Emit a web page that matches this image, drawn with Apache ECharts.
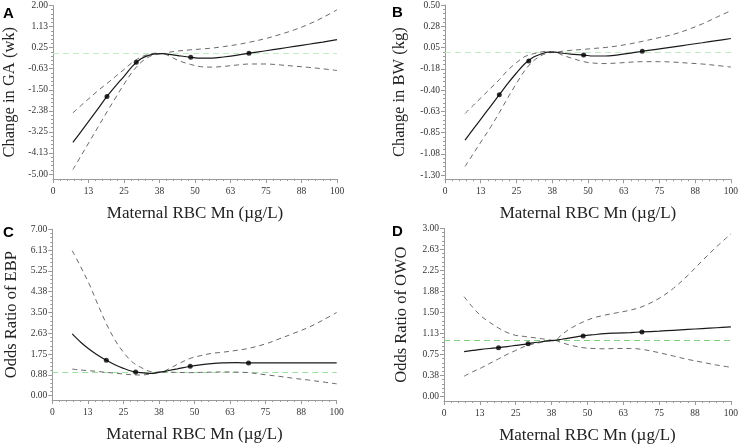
<!DOCTYPE html>
<html>
<head>
<meta charset="utf-8">
<script src="https://cdn.jsdelivr.net/npm/echarts@6/dist/echarts.min.js"></script>
<style>
  html, body { margin: 0; padding: 0; background: #fff; }
  #chart { width: 741px; height: 445px; }
</style>
</head>
<body>
<div id="chart"></div>
<script>
// x positions of the estimated curve points (Maternal RBC Mn, ug/L)
const xs = [7, 10, 13, 16, 19, 22, 25, 28, 31, 34, 36, 38.5, 41, 44, 48.5, 52, 56, 60, 65, 69, 75, 80, 85, 90, 95, 100];
const dotX = [19, 29.3, 48.5, 69];

// A: change in GA (wk)
const gaFit = [-3.69, -3.22, -2.74, -2.26, -1.78, -1.35, -0.94, -0.52, -0.21, -0.06, -0.01, 0, -0.03, -0.08, -0.15, -0.19, -0.19, -0.14, -0.06, 0.02, 0.12, 0.21, 0.30, 0.39, 0.48, 0.58];
const gaUpper = [-2.46, -2.14, -1.83, -1.52, -1.24, -0.95, -0.66, -0.36, -0.14, -0.02, 0.02, 0, 0.06, 0.11, 0.16, 0.19, 0.23, 0.29, 0.38, 0.47, 0.63, 0.80, 0.99, 1.22, 1.50, 1.82];
const gaLower = [-4.82, -4.22, -3.62, -3.02, -2.42, -1.84, -1.27, -0.75, -0.36, -0.12, -0.04, 0, -0.10, -0.28, -0.45, -0.54, -0.56, -0.53, -0.47, -0.43, -0.43, -0.47, -0.52, -0.57, -0.63, -0.70];
const gaDots = [-1.78, -0.36, -0.15, 0.02];

// B: change in BW (kg)
const bwFit = [-0.93, -0.81, -0.69, -0.57, -0.45, -0.33, -0.22, -0.12, -0.05, -0.015, 0, 0, -0.01, -0.02, -0.03, -0.04, -0.04, -0.03, -0.01, 0.01, 0.035, 0.057, 0.079, 0.10, 0.123, 0.145];
const bwUpper = [-0.65, -0.56, -0.47, -0.38, -0.29, -0.19, -0.11, -0.045, -0.015, 0.005, 0.01, 0, 0.01, 0.02, 0.03, 0.04, 0.05, 0.065, 0.09, 0.115, 0.155, 0.19, 0.24, 0.30, 0.37, 0.44];
const bwLower = [-1.21, -1.07, -0.93, -0.79, -0.64, -0.48, -0.33, -0.19, -0.09, -0.03, -0.01, 0, -0.03, -0.06, -0.10, -0.115, -0.12, -0.115, -0.105, -0.10, -0.10, -0.105, -0.115, -0.125, -0.14, -0.157];
const bwDots = [-0.45, -0.094, -0.03, 0.01];

// C: odds ratio of EBP
const ebpFit = [2.60, 2.25, 1.95, 1.70, 1.49, 1.30, 1.15, 1.03, 0.97, 0.94, 0.95, 1.0, 1.06, 1.13, 1.24, 1.30, 1.35, 1.38, 1.39, 1.38, 1.38, 1.38, 1.38, 1.38, 1.38, 1.38];
const ebpUpper = [6.10, 5.42, 4.69, 3.84, 3.03, 2.35, 1.83, 1.43, 1.20, 1.03, 0.99, 1.0, 1.13, 1.32, 1.57, 1.68, 1.78, 1.83, 1.91, 1.99, 2.18, 2.40, 2.63, 2.87, 3.17, 3.50];
const ebpLower = [1.12, 1.08, 1.05, 1.02, 0.98, 0.95, 0.91, 0.88, 0.87, 0.90, 0.94, 1.0, 0.99, 0.98, 0.97, 0.98, 0.99, 1.0, 0.99, 0.97, 0.88, 0.81, 0.73, 0.66, 0.58, 0.50];
const ebpDots = [1.49, 1.00, 1.24, 1.38];

// D: odds ratio of OWO
const owoFit = [0.80, 0.82, 0.84, 0.855, 0.87, 0.89, 0.91, 0.93, 0.955, 0.975, 0.99, 1.0, 1.02, 1.045, 1.08, 1.10, 1.12, 1.13, 1.14, 1.15, 1.165, 1.18, 1.195, 1.21, 1.225, 1.24];
const owoUpper = [1.78, 1.59, 1.43, 1.32, 1.22, 1.14, 1.09, 1.07, 1.05, 1.03, 1.015, 1.0, 1.10, 1.21, 1.33, 1.40, 1.45, 1.49, 1.54, 1.60, 1.75, 1.93, 2.16, 2.42, 2.67, 2.90];
const owoLower = [0.36, 0.44, 0.51, 0.59, 0.67, 0.75, 0.82, 0.89, 0.935, 0.965, 0.985, 1.0, 0.96, 0.915, 0.87, 0.855, 0.85, 0.855, 0.855, 0.84, 0.78, 0.72, 0.66, 0.61, 0.56, 0.52];
const owoDots = [0.87, 0.94, 1.08, 1.15];

// y tick values
const ticksA = [-5, -4.125, -3.25, -2.375, -1.5, -0.625, 0.25, 1.125, 2];
const ticksB = [-1.3, -1.075, -0.85, -0.625, -0.4, -0.175, 0.05, 0.275, 0.5];
const ticksC = [0, 0.875, 1.75, 2.625, 3.5, 4.375, 5.25, 6.125, 7];
const ticksD = [0, 0.375, 0.75, 1.125, 1.5, 1.875, 2.25, 2.625, 3];

const xName = 'Maternal RBC Mn (\u00b5g/L)';
const serif = 'Liberation Serif';

const panels = [
  { letter: 'A', name: 'Change in GA (wk)', fit: gaFit, up: gaUpper, lo: gaLower, dots: gaDots, ticks: ticksA, ref: 0,
    box: { left: 52.5, top: 5.5, width: 284.5, height: 173.5 }, pad: 5, gap: 35, green: '#c4ecc4', lpos: [3, 6] },
  { letter: 'B', name: 'Change in BW (kg)', fit: bwFit, up: bwUpper, lo: bwLower, dots: bwDots, ticks: ticksB, ref: 0,
    box: { left: 445, top: 5, width: 287.7, height: 174.3 }, pad: 4.3, gap: 36.5, green: '#c4ecc4', lpos: [392, 5] },
  { letter: 'C', name: 'Odds Ratio of EBP', fit: ebpFit, up: ebpUpper, lo: ebpLower, dots: ebpDots, ticks: ticksC, ref: 1,
    box: { left: 52.3, top: 229.3, width: 284.4, height: 170.7 }, pad: 4.3, gap: 32, green: '#9fdf9f', lpos: [3, 225] },
  { letter: 'D', name: 'Odds Ratio of OWO', fit: owoFit, up: owoUpper, lo: owoLower, dots: owoDots, ticks: ticksD, ref: 1,
    box: { left: 444, top: 228.3, width: 288.7, height: 173 }, pad: 4.6, gap: 34, green: '#7fd07f', lpos: [392, 224] }
];

function fmt2(v) {
  return (v < -1e-9 ? '-' : '') + (Math.round(Math.abs(v) * 100 + 1e-6) / 100).toFixed(2);
}

function minorsOf(t) {
  const out = [];
  for (let i = 0; i < t.length - 1; i++) {
    const step = (t[i + 1] - t[i]) / 5;
    for (let k = 1; k < 5; k++) out.push(t[i] + k * step);
  }
  return out;
}

const pairs = (xv, yv) => xv.map((x, i) => [x, yv[i]]);

const chart = echarts.init(document.getElementById('chart'));

const grid = [], xAxis = [], yAxis = [], series = [], title = [];
const axisColor = '#9a9a9a';

panels.forEach((p, i) => {
  grid.push(Object.assign({}, p.box));
  title.push({
    text: p.letter, left: p.lpos[0], top: p.lpos[1], padding: 0,
    textStyle: { fontFamily: 'Liberation Sans', fontWeight: 'bold', fontSize: 15, color: '#000' }
  });

  xAxis.push({
    type: 'value', gridIndex: i, min: 0, max: 100, interval: 12.5,
    name: xName, nameLocation: 'middle', nameGap: 26,
    nameTextStyle: { fontFamily: serif, fontSize: 17, color: '#222' },
    axisLine: { onZero: false, lineStyle: { color: axisColor } },
    axisTick: { length: 4, lineStyle: { color: axisColor } },
    minorTick: { show: true, splitNumber: 5, length: 2, lineStyle: { color: axisColor } },
    axisLabel: { fontFamily: serif, fontSize: 9.5, color: '#333', margin: 7, formatter: v => String(Math.round(v)) },
    splitLine: { show: false }
  });

  const lo = p.ticks[0], hi = p.ticks[p.ticks.length - 1];
  const yMin = lo - (hi - lo) * p.pad / (p.box.height - p.pad);

  yAxis.push({
    type: 'value', gridIndex: i, min: yMin, max: hi,
    name: p.name, nameLocation: 'middle', nameGap: p.gap,
    nameTextStyle: { fontFamily: serif, fontSize: 16.5, color: '#222' },
    axisLine: { show: true, onZero: false, lineStyle: { color: axisColor } },
    axisTick: { show: true, length: 4, customValues: p.ticks, lineStyle: { color: axisColor } },
    axisLabel: { fontFamily: serif, fontSize: 9.5, color: '#333', margin: 5, customValues: p.ticks, formatter: fmt2 },
    splitLine: { show: false }
  });
  // overlay axis carrying only the minor ticks
  yAxis.push({
    type: 'value', gridIndex: i, min: yMin, max: hi, position: 'left',
    axisLine: { show: false },
    axisTick: { show: true, length: 2, customValues: minorsOf(p.ticks), lineStyle: { color: axisColor } },
    axisLabel: { show: false },
    splitLine: { show: false }
  });

  const yi = i * 2;
  const dash = { color: '#6a6a6a', width: 1, type: [5, 4] };
  series.push({
    type: 'line', xAxisIndex: i, yAxisIndex: yi, data: pairs(xs, p.up),
    symbol: 'none', smooth: 0.35, lineStyle: dash, silent: true, z: 3
  });
  series.push({
    type: 'line', xAxisIndex: i, yAxisIndex: yi, data: pairs(xs, p.lo),
    symbol: 'none', smooth: 0.35, lineStyle: dash, silent: true, z: 3
  });
  series.push({
    type: 'line', xAxisIndex: i, yAxisIndex: yi, data: pairs(xs, p.fit),
    symbol: 'none', smooth: 0.35, lineStyle: { color: '#1a1a1a', width: 1.2 }, silent: true, z: 4,
    markLine: {
      silent: true, symbol: 'none', label: { show: false },
      lineStyle: { color: p.green, type: [6, 4], width: 1.2 },
      data: [{ yAxis: p.ref }], z: 2
    }
  });
  series.push({
    type: 'scatter', xAxisIndex: i, yAxisIndex: yi, data: pairs(dotX, p.dots),
    symbolSize: 5, itemStyle: { color: '#000' }, silent: true, z: 5
  });
});

chart.setOption({
  animation: false,
  backgroundColor: '#fff',
  title: title,
  grid: grid,
  xAxis: xAxis,
  yAxis: yAxis,
  series: series
});
</script>
</body>
</html>
